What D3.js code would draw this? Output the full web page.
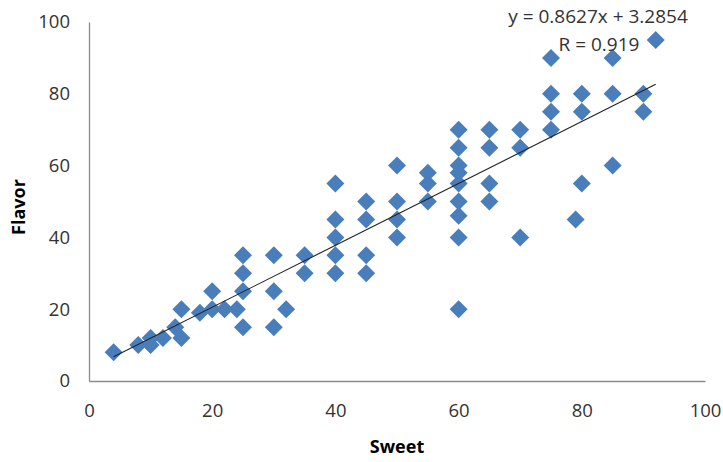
<!DOCTYPE html>
<html>
<head>
<meta charset="utf-8">
<script src="https://cdn.jsdelivr.net/npm/d3@7"></script>
<style>
  html, body { margin: 0; padding: 0; background: #fff; }
  svg { display: block; }
  .tick text { font-family: "Open Sans", sans-serif; fill: #333; }
</style>
</head>
<body>
<div id="chart"></div>
<script>
// Sweetness vs. flavour ratings, one entry per sample
const sweet = [
  4, 8, 10, 10, 12, 14, 15, 15, 18, 20, 20, 22, 24,
  25, 25, 25, 25, 30, 30, 30, 32, 35, 35,
  40, 40, 40, 40, 40, 45, 45, 45, 45,
  50, 50, 50, 50, 55, 55, 55,
  60, 60, 60, 60, 60, 60, 60, 60, 60,
  65, 65, 65, 65, 70, 70, 70,
  75, 75, 75, 75, 79, 80, 80, 80,
  85, 85, 85, 90, 90, 92
];
const flavor = [
  8, 10, 10, 12, 12, 15, 12, 20, 19, 20, 25, 20, 20,
  35, 30, 25, 15, 35, 25, 15, 20, 35, 30,
  55, 45, 40, 35, 30, 50, 45, 35, 30,
  60, 50, 45, 40, 58, 55, 50,
  70, 65, 60, 58, 55, 50, 46, 40, 20,
  70, 65, 55, 50, 70, 65, 40,
  90, 80, 75, 70, 45, 80, 75, 55,
  90, 80, 60, 80, 75, 95
];
const xTicks = [0, 20, 40, 60, 80, 100];
const yTicks = [0, 20, 40, 60, 80, 100];
const slope = 0.8627, intercept = 3.2854, rValue = 0.919;

const W = 723, H = 462;
const margin = { left: 89, right: 18, top: 22, bottom: 81 };

const svg = d3.select("#chart").append("svg")
  .attr("width", W).attr("height", H);

const x = d3.scaleLinear().domain([0, 100]).range([margin.left, W - margin.right]);
const y = d3.scaleLinear().domain([0, 100]).range([H - margin.bottom, margin.top]);

// axes
const xAxis = svg.append("g")
  .attr("transform", `translate(0,${y(0)})`)
  .call(d3.axisBottom(x).tickValues(xTicks).tickSize(0).tickSizeOuter(0));
const yAxis = svg.append("g")
  .attr("transform", `translate(${x(0)},0)`)
  .call(d3.axisLeft(y).tickValues(yTicks).tickSize(0).tickSizeOuter(0).tickPadding(19));

[xAxis, yAxis].forEach(g => {
  g.select(".domain").attr("stroke", "#8c8c8c").attr("stroke-width", 1.3);
  g.selectAll(".tick text").attr("font-size", 18.5);
});
xAxis.selectAll(".tick text").attr("dy", "0.35em").attr("y", 30);

// axis titles
svg.append("text")
  .attr("x", 397).attr("y", 446)
  .attr("text-anchor", "middle").attr("dominant-baseline", "central")
  .attr("font-family", "Open Sans, sans-serif").attr("font-weight", "bold")
  .attr("font-size", 18).attr("fill", "#000")
  .text("Sweet");
svg.append("text")
  .attr("transform", "translate(18,207) rotate(-90)")
  .attr("text-anchor", "middle").attr("dominant-baseline", "central")
  .attr("font-family", "Open Sans, sans-serif").attr("font-weight", "bold")
  .attr("font-size", 18).attr("fill", "#000")
  .text("Flavor");

// points
const data = sweet.map((s, i) => ({ s, f: flavor[i] }));
const diamond = d3.symbol().type(d3.symbolSquare).size(162);
svg.append("g").selectAll("path")
  .data(data).enter().append("path")
  .attr("d", diamond)
  .attr("transform", d => `translate(${x(d.s)},${y(d.f)}) rotate(45)`)
  .attr("fill", "#4a7ebb");

// linear trend line over the range of the data
const [xmin, xmax] = d3.extent(sweet);
svg.append("line")
  .attr("x1", x(xmin)).attr("y1", y(slope * xmin + intercept))
  .attr("x2", x(xmax)).attr("y2", y(slope * xmax + intercept))
  .attr("stroke", "#222").attr("stroke-width", 1.1);

// trend line equation
const eq = svg.append("g").attr("font-family", "Open Sans, sans-serif")
  .attr("font-size", 19).attr("fill", "#333").attr("text-anchor", "middle");
eq.append("text").attr("x", 598).attr("y", 16).attr("dominant-baseline", "central")
  .text(`y = ${slope}x + ${intercept}`);
eq.append("text").attr("x", 599).attr("y", 44).attr("dominant-baseline", "central")
  .text(`R = ${rValue}`);
</script>
</body>
</html>
